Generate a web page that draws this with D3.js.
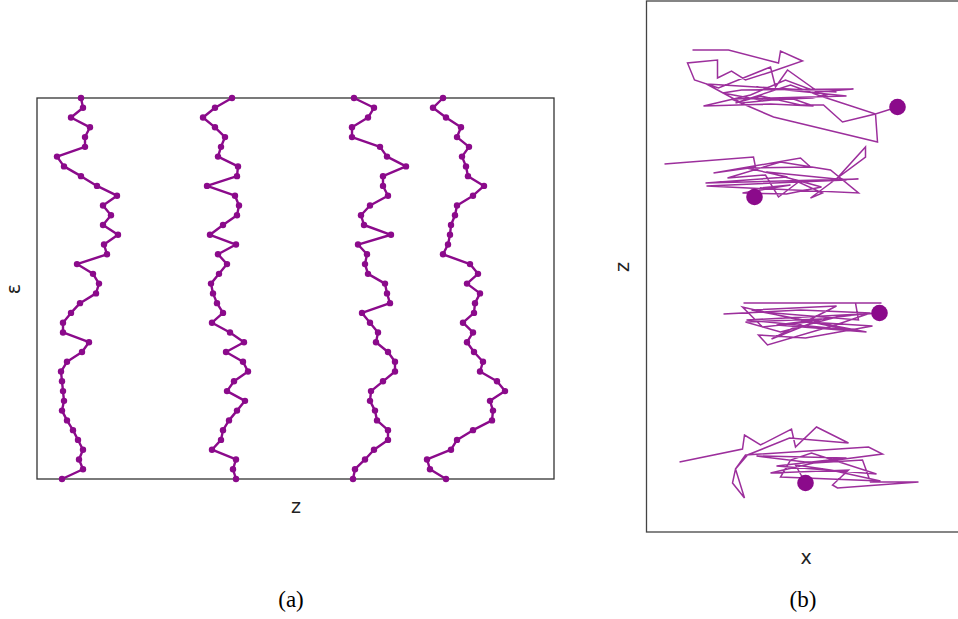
<!DOCTYPE html>
<html>
<head>
<meta charset="utf-8">
<script src="https://cdn.jsdelivr.net/npm/d3@7"></script>
<style>
  html, body { margin: 0; padding: 0; background: #fff; overflow: hidden; }
  svg { display: block; }
</style>
</head>
<body>
<svg id="chart" width="958" height="619"></svg>
<script>
// Panel (a): four strands, z position at each ε step (top to bottom)
const strand1 = [44,46,34,53,48,48,20,27,44,60,80,66,74,66,81,67,70,40,56,62,59,43,34,26,26,52,45,30,24,25,26,27,25,30,36,41,46,42,46,25];
const strand2 = [195,178,166,178,188,184,181,201,200,170,198,202,200,186,173,199,181,190,182,174,176,180,186,175,193,207,189,206,211,197,190,208,200,192,186,184,175,199,196,199];
const strand3 = [317,337,331,315,315,343,350,369,346,346,351,333,324,327,354,321,330,328,331,348,350,353,325,333,341,339,351,358,358,346,334,333,338,340,351,351,337,328,318,316];
const strand4 = [406,396,409,424,420,432,425,429,431,447,436,420,418,414,413,411,406,433,441,430,443,438,437,426,436,430,437,446,443,460,468,453,456,455,436,420,414,390,393,409];
const strands = [strand1, strand2, strand3, strand4];

// Panel (b): four walks in the x-z plane, [x, z]; the last point is the current position
const walk1 = [[46,482],[82,482],[132,469],[134,481],[156,471],[124,460],[99,452],[85,461],[71,454],[71,472],[41,469],[48,452],[72,444],[124,465],[129,445],[141,462],[172,440],[207,443],[95,442],[76,439],[114,432],[166,434],[179,437],[139,452],[104,437],[57,426],[124,428],[167,426],[144,434],[95,429],[60,448],[190,440],[110,445],[200,436],[85,433],[127,415],[231,390],[229,418],[196,410],[177,427],[154,427],[114,436],[89,429],[144,447],[174,436],[229,418],[251,425]];
const walk2 = [[18,368],[107,375],[109,365],[67,359],[154,374],[164,365],[100,364],[141,355],[59,349],[212,353],[189,352],[219,385],[219,375],[164,334],[176,339],[152,350],[132,335],[119,357],[81,354],[134,370],[184,362],[212,339],[60,346],[200,352],[120,360],[175,345],[140,338],[96,339],[144,347],[114,344],[108,335]];
const walk3 = [[97,229],[235,229],[209,229],[212,212],[114,220],[77,218],[154,222],[224,219],[189,207],[121,187],[112,197],[159,194],[226,206],[162,210],[116,205],[96,225],[144,214],[204,202],[100,212],[215,218],[130,207],[220,200],[105,222],[190,226],[125,193],[175,213],[99,210],[134,200],[194,216],[233,219]];
const walk4 = [[33,70],[96,83],[98,97],[114,87],[145,103],[149,85],[170,105],[202,89],[143,94],[101,77],[89,63],[86,49],[98,34],[89,63],[99,77],[222,85],[236,78],[167,69],[216,72],[224,50],[272,50],[191,44],[186,47],[202,62],[124,59],[167,69],[110,76],[200,74],[130,66],[230,58],[165,79],[144,72],[134,55],[234,51],[184,62],[149,67],[159,49]];
const walks = [walk1, walk2, walk3, walk4];

const purple = '#8b0a8b';
const svg = d3.select('#chart');

// ---- panel (a)
const xa = d3.scaleLinear().domain([0, 517]).range([37, 554]);
const ya = d3.scaleLinear().domain([0, strand1.length - 1]).range([98, 479]);

svg.append('rect')
  .attr('x', xa(0)).attr('y', ya(0))
  .attr('width', xa(517) - xa(0)).attr('height', ya(39) - ya(0))
  .attr('fill', 'none').attr('stroke', '#333').attr('stroke-width', 1.3);

const lineA = d3.line().x(d => xa(d)).y((d, i) => ya(i));
const ga = svg.append('g');
strands.forEach(s => {
  ga.append('path')
    .attr('d', lineA(s))
    .attr('fill', 'none')
    .attr('stroke', purple)
    .attr('stroke-width', 2.4)
    .attr('stroke-linejoin', 'round');
  ga.selectAll(null)
    .data(s)
    .join('circle')
      .attr('cx', d => xa(d))
      .attr('cy', (d, i) => ya(i))
      .attr('r', 3.2)
      .attr('fill', purple);
});

svg.append('text')
  .attr('x', 296).attr('y', 513)
  .attr('text-anchor', 'middle')
  .attr('font-family', 'DejaVu Sans')
  .attr('font-size', 19).attr('fill', '#222')
  .text('z');
svg.append('text')
  .attr('transform', 'translate(20,289) rotate(-90)')
  .attr('text-anchor', 'middle')
  .attr('font-family', 'DejaVu Sans')
  .attr('font-size', 19).attr('fill', '#222')
  .text('ε');

// ---- panel (b)
const xb = d3.scaleLinear().domain([0, 320]).range([646.5, 966.5]);
const zb = d3.scaleLinear().domain([0, 531]).range([532, 1]);

svg.append('rect')
  .attr('x', xb(0)).attr('y', zb(531))
  .attr('width', xb(320) - xb(0)).attr('height', zb(0) - zb(531))
  .attr('fill', 'none').attr('stroke', '#444').attr('stroke-width', 1.3);

const lineB = d3.line().x(d => xb(d[0])).y(d => zb(d[1]));
const gb = svg.append('g');
walks.forEach(w => {
  gb.append('path')
    .attr('d', lineB(w))
    .attr('fill', 'none')
    .attr('stroke', purple)
    .attr('stroke-opacity', 0.85)
    .attr('stroke-width', 1.5)
    .attr('stroke-linejoin', 'miter');
  const last = w[w.length - 1];
  gb.append('circle')
    .attr('cx', xb(last[0]))
    .attr('cy', zb(last[1]))
    .attr('r', 8.3)
    .attr('fill', purple);
});

svg.append('text')
  .attr('x', 806).attr('y', 564)
  .attr('text-anchor', 'middle')
  .attr('font-family', 'DejaVu Sans')
  .attr('font-size', 19).attr('fill', '#222')
  .text('x');
svg.append('text')
  .attr('transform', 'translate(629,267) rotate(-90)')
  .attr('text-anchor', 'middle')
  .attr('font-family', 'DejaVu Sans')
  .attr('font-size', 19).attr('fill', '#222')
  .text('z');

// ---- captions
[['(a)', 291], ['(b)', 803]].forEach(([t, x]) => {
  svg.append('text')
    .attr('x', x).attr('y', 607)
    .attr('text-anchor', 'middle')
    .attr('font-family', 'Liberation Serif')
    .attr('font-size', 23).attr('fill', '#000')
    .text(t);
});
</script>
</body>
</html>
